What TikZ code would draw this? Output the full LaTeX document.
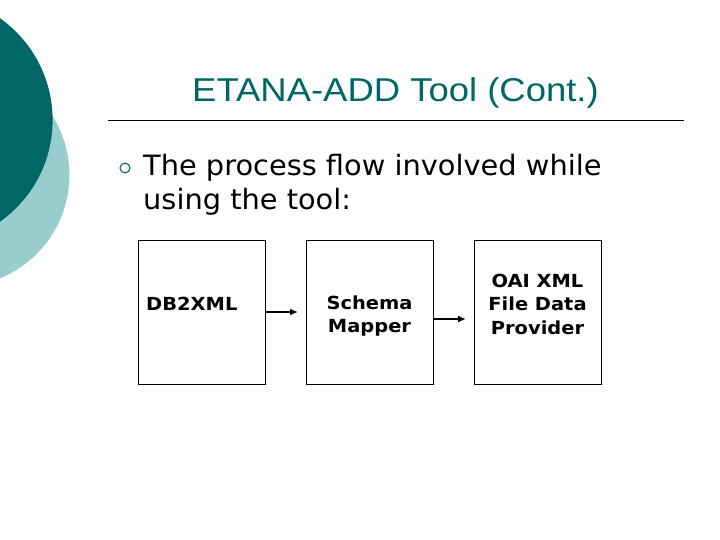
\documentclass[tikz,border=0pt]{standalone}
\usepackage{fontspec}
\usetikzlibrary{arrows.meta}
\setmainfont{DejaVu Sans}
\newfontfamily\titlefont[FakeStretch=1.105]{Liberation Sans}
\newfontfamily\bodyfont[FakeStretch=1.03]{DejaVu Sans}
\newfontfamily\boxfont[FakeStretch=1.08]{DejaVu Sans}
\definecolor{darkteal}{RGB}{0,102,102}
\definecolor{lightteal}{RGB}{153,204,204}
\begin{document}
\begin{tikzpicture}[x=1pt,y=-1pt,
  procbox/.style={draw=black,line width=0.8pt,minimum width=127pt,minimum height=144pt,inner sep=0pt},
  boxtext/.style={font=\boxfont\bfseries\fontsize{18}{23.5}\selectfont,align=center},
  flow/.style={-{Latex[length=8pt,width=7pt]},line width=1.8pt}]
\useasboundingbox (0,0) rectangle (720,540);
\fill[white] (0,0) rectangle (720,540);
% decorative circles
\begin{scope}
\clip (0,0) rectangle (720,540);
\fill[lightteal] (-42,175) circle (111.4);
\fill[darkteal] (-72,120) circle (124.6);
\end{scope}
% title
\node[anchor=base,font=\titlefont\fontsize{33}{38}\selectfont,text=darkteal,inner sep=0pt] (title) at (395.5,102) {ETANA-ADD Tool (Cont.)};
\coordinate (ruleL) at (108,120);
\coordinate (ruleR) at (684,120);
\draw[line width=0.8pt] (ruleL) -- (ruleR);
% bullet
\node[draw=darkteal,circle,line width=1.1pt,minimum size=10pt,inner sep=0pt] (bullet) at (125,168) {};
\node[anchor=base west,font=\bodyfont\fontsize{28}{34}\selectfont,align=left,inner sep=0pt] (btext1) at (143,176) {The process flow involved while};
\node[anchor=base west,font=\bodyfont\fontsize{28}{34}\selectfont,align=left,inner sep=0pt] (btext2) at (143,210) {using the tool:};
% boxes
\node[procbox] (b1) at (201.5,312) {};
\node[procbox] (b2) at (369.5,312) {};
\node[procbox] (b3) at (537.5,312) {};
\node[boxtext,anchor=base west,inner sep=0pt] (t1) at (146,310) {DB2XML};
\node[boxtext] (t2) at (369.5,316) {Schema\\Mapper};
\node[boxtext] (t3) at (537.5,304) {OAI XML\\File Data\\Provider};
% arrows
\coordinate (a1s) at (b1.east |- 0,312);
\coordinate (a1e) at (298,312);
\coordinate (a2s) at (b2.east |- 0,319);
\coordinate (a2e) at (466,319);
\draw[flow] (a1s) -- (a1e);
\draw[flow] (a2s) -- (a2e);
\end{tikzpicture}
\end{document}
